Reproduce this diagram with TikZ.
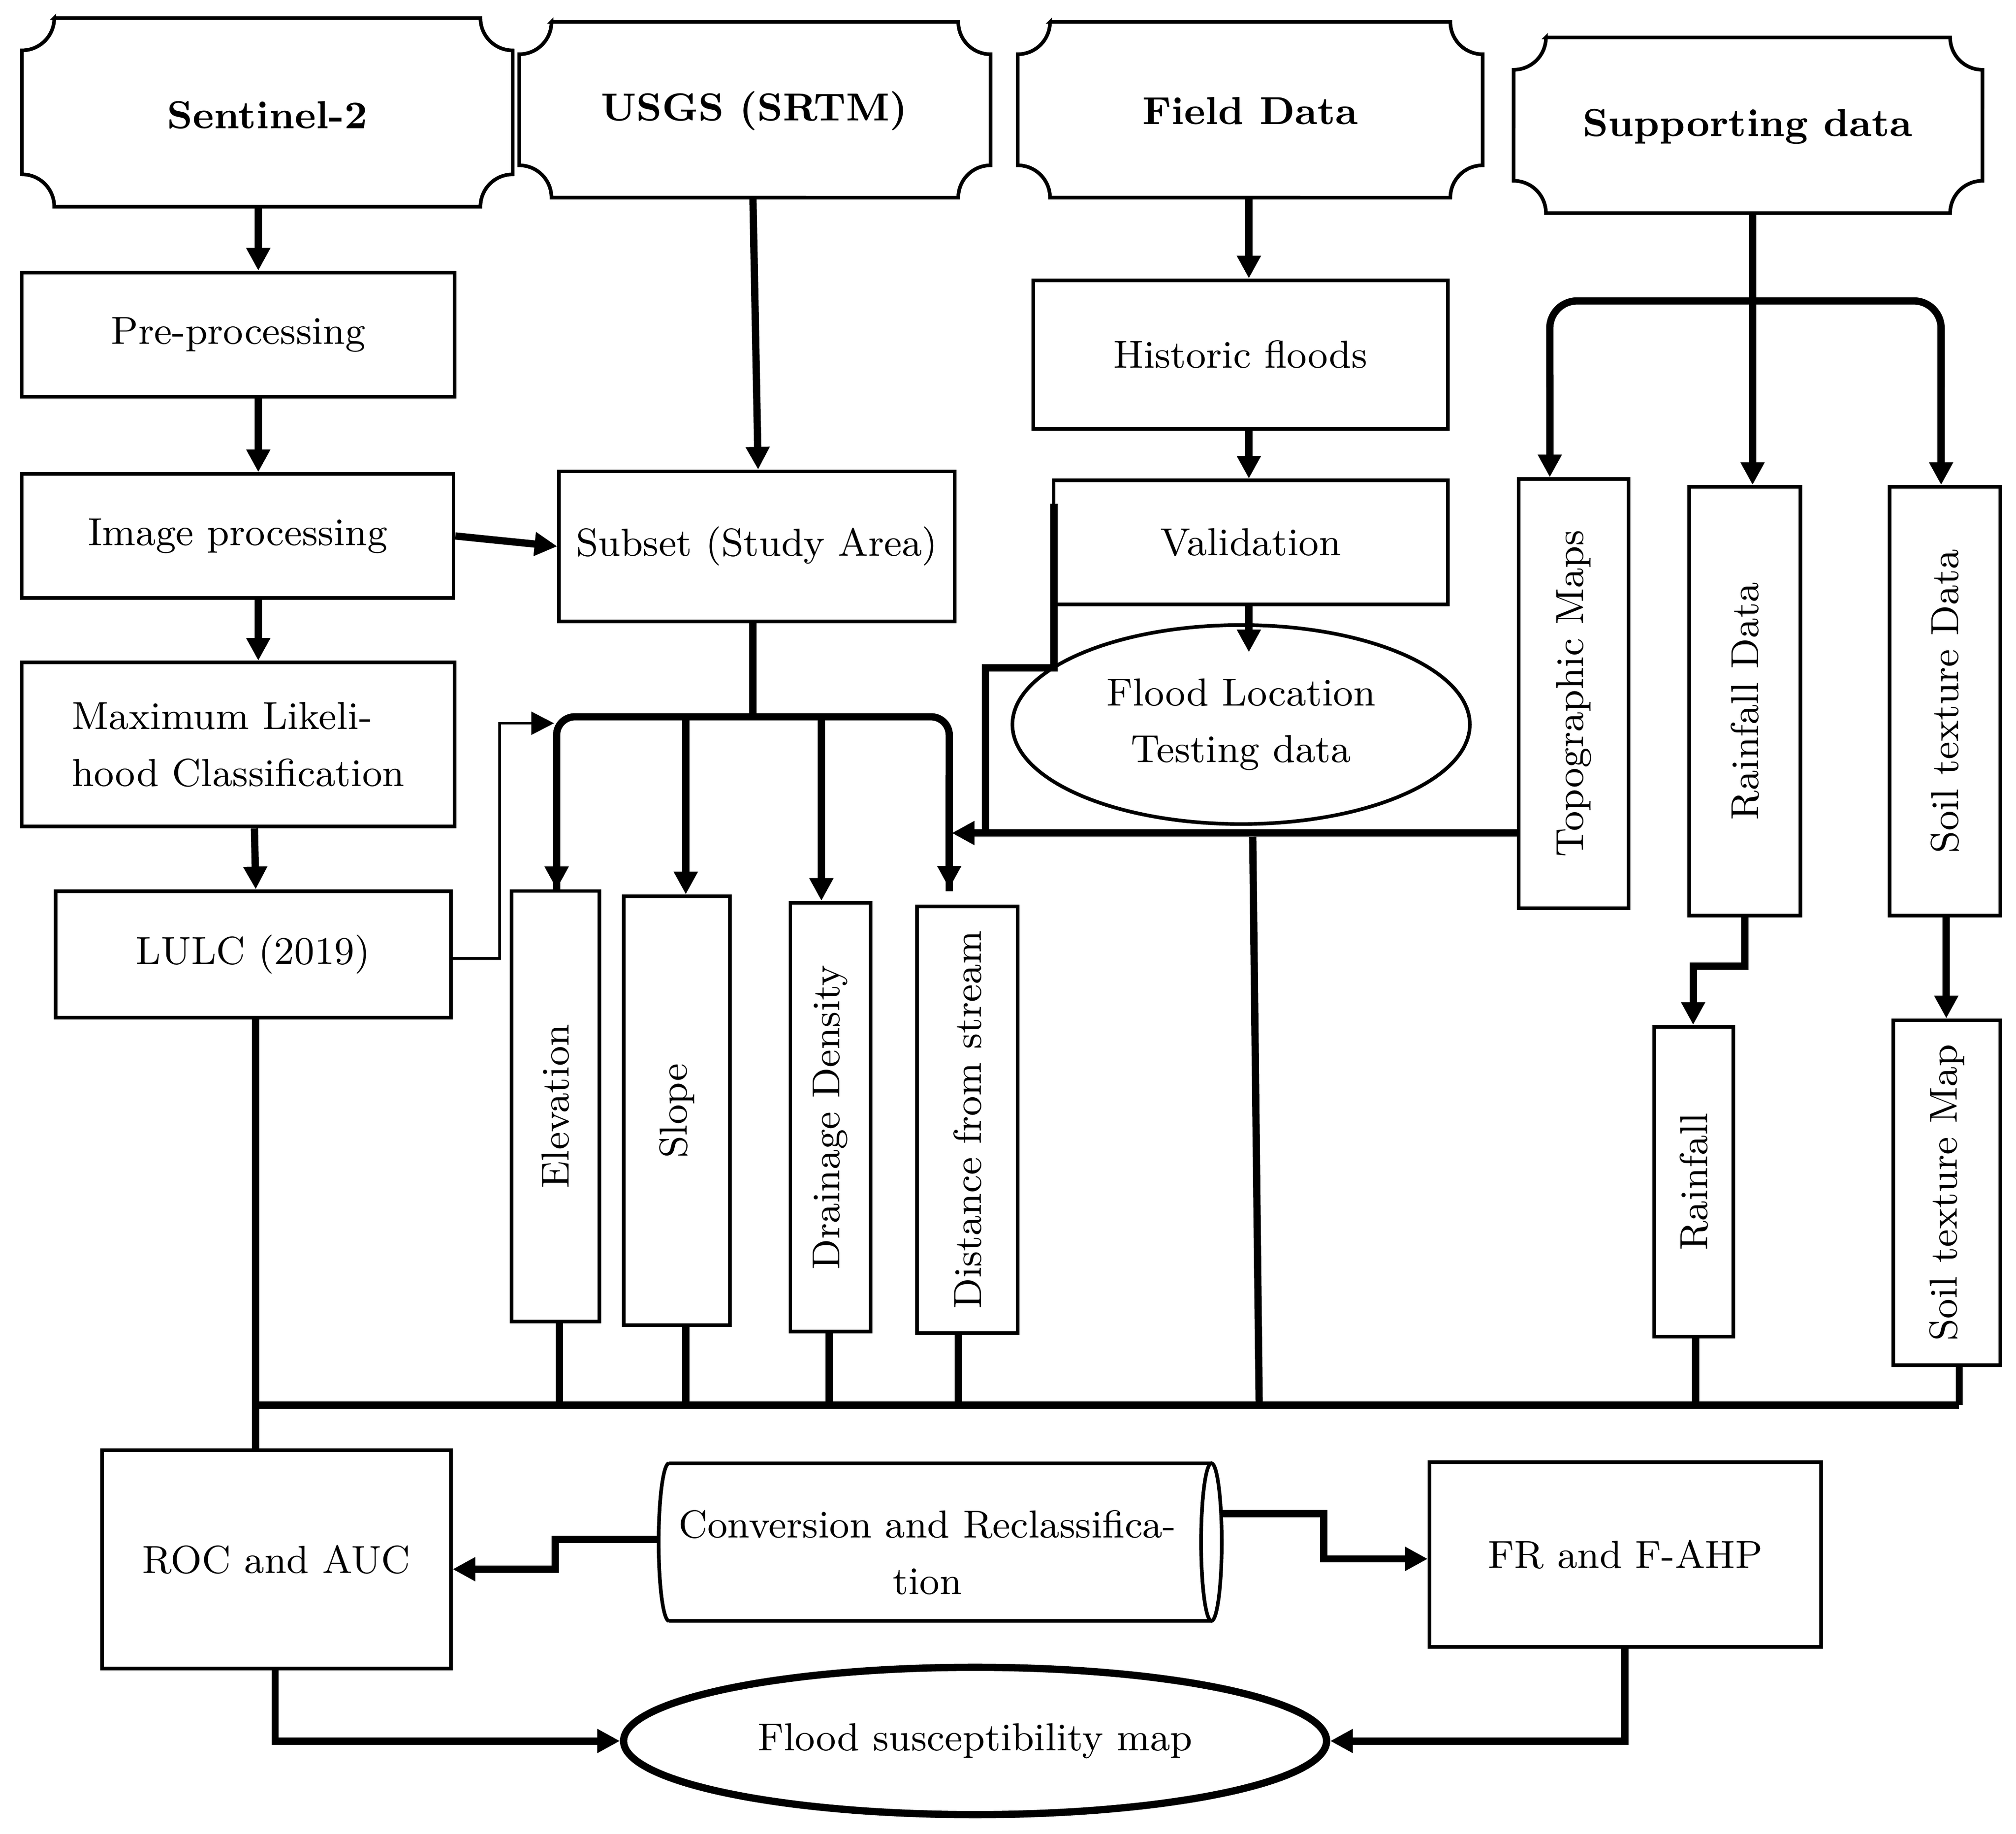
\documentclass[tikz,border=0pt]{standalone}
\usetikzlibrary{arrows.meta,shapes.geometric}
\begin{document}
\begin{tikzpicture}[x=0.01cm,y=-0.01cm,
  every node/.style={font=\fontsize{8.6}{12.5}\selectfont},
  box/.style={draw,line width=0.8pt,inner sep=0pt,align=center},
  thk/.style={line width=1.6pt},
  arr/.style={line width=1.6pt,-{Triangle[length=5pt,width=5pt]}},
  tarr/.style={line width=0.6pt,-{Triangle[length=5pt,width=5pt]}}]
\useasboundingbox (0,0) rectangle (1561,1420);
\newcommand\plq[5]{%
 \draw[line width=0.8pt] (#1+25,#2) -- (#3-25,#2) arc(180:270:0.25cm) -- (#3,#4-25) arc(90:180:0.25cm) -- (#1+25,#4) arc(0:90:0.25cm) -- (#1,#2+25) arc(270:360:0.25cm) -- cycle;
 \node (#5) at ({(#1+#3)/2},{(#2+#4)/2}) {};}
\tikzset{ttl/.style={font=\fontsize{8.6}{12.5}\selectfont\bfseries}}
% top plaques
\plq{17}{14}{397}{160}{sen}\node[ttl] at (207,89) {Sentinel-2};
\plq{402}{17}{767}{153}{usgs}\node[ttl] at (584,86) {USGS (SRTM)};
\plq{788}{17}{1148}{153}{field}\node[ttl] at (968,86) {Field Data};
\plq{1172}{29}{1535}{165}{supp}\node[ttl] at (1353,98) {Supporting data};
% left column
\node[box,minimum width=3.35cm,minimum height=0.96cm] (pre) at (184.5,259) {Pre-processing};
\node[box,minimum width=3.34cm,minimum height=0.96cm] (img) at (184,415) {Image processing};
\node[box,minimum width=3.35cm,minimum height=1.27cm,align=left] (mlc) at (184.5,576.5) {Maximum Likeli-\\hood Classification};
\node[box,minimum width=3.06cm,minimum height=0.98cm] (lulc) at (196,739) {LULC (2019)};
\node[box,minimum width=3.06cm,minimum height=1.16cm] (sub) at (586,423) {Subset (Study Area)};
\node[box,minimum width=3.21cm,minimum height=1.15cm] (hist) at (960.5,274.5) {Historic floods};
\node[box,minimum width=3.05cm,minimum height=0.96cm] (val) at (968.5,420) {Validation};
\node[draw,line width=0.8pt,ellipse,minimum width=3.54cm,minimum height=1.54cm,fill=white,align=center] (floc) at (961,561) {Flood Location\\Testing data};
% vertical boxes
\node[box,minimum width=0.85cm,minimum height=3.32cm] (topo) at (1218.5,537) {\rotatebox{90}{Topographic Maps}};
\node[box,minimum width=0.86cm,minimum height=3.32cm] (rfd) at (1351,543) {\rotatebox{90}{Rainfall Data}};
\node[box,minimum width=0.86cm,minimum height=3.32cm] (std) at (1506,543) {\rotatebox{90}{Soil texture Data}};
\node[box,minimum width=0.61cm,minimum height=2.40cm] (rf) at (1311.5,915) {\rotatebox{90}{Rainfall}};
\node[box,minimum width=0.83cm,minimum height=2.67cm] (stm) at (1507.5,923.5) {\rotatebox{90}{Soil texture Map}};
\node[box,minimum width=0.68cm,minimum height=3.33cm] (elev) at (430,856.5) {\rotatebox{90}{Elevation}};
\node[box,minimum width=0.82cm,minimum height=3.32cm] (slope) at (524,860) {\rotatebox{90}{Slope}};
\node[box,minimum width=0.62cm,minimum height=3.32cm] (dd) at (643,865) {\rotatebox{90}{Drainage Density}};
\node[box,minimum width=0.78cm,minimum height=3.30cm] (dist) at (749,867) {\rotatebox{90}{Distance from stream}};
% bottom
\node[box,minimum width=2.70cm,minimum height=1.69cm] (roc) at (214,1207.5) {ROC and AUC};
\node[box,minimum width=3.03cm,minimum height=1.43cm] (fr) at (1258.5,1203.5) {FR and F-AHP};
\draw[line width=0.8pt] (518,1133) -- (938,1133) (518,1255) -- (938,1255)
  (518,1133) arc[start angle=90,end angle=270,x radius=0.08cm,y radius=0.61cm];
\draw[line width=0.8pt] (938,1194) ellipse[x radius=0.08cm,y radius=0.61cm];
\node[align=center] (cyl) at (718,1202) {Conversion and Reclassifica-\\tion};
\coordinate (cylL) at (510,1192); \coordinate (cylR) at (946,1172);
\node[draw,line width=1.6pt,ellipse,minimum width=5.44cm,minimum height=1.14cm] (fsm) at (755,1348) {Flood susceptibility map};
% connectors left
\draw[arr] (200,160) -- (pre.north-|200,0);
\draw[arr] (pre.south-|200,0) -- (img.north-|200,0);
\draw[arr] (img.south-|200,0) -- (mlc.north-|200,0);
\draw[arr] (mlc.south-|197,0) -- (lulc.north-|198,0);
\draw[arr] (img.east) -- (sub.west);
\draw[arr] (583,153) -- (sub.north-|587,0);
% subset bus
\draw[thk] (sub.south-|583,0) -- (583,555);
\draw[thk,rounded corners=4pt] (431,690) -- (431,555) -- (735,555) -- (735,690);
\draw[arr] (431,600) -- (elev.north-|431,0);
\draw[arr] (531,555) -- (slope.north-|531,0);
\draw[arr] (636,555) -- (dd.north-|636,0);
\draw[arr] (735,600) -- (735,688);
\draw[tarr] (lulc.east|-0,742) -- (387,742) -- (387,560) -- (429,560);
% field
\draw[arr] (967,153) -- (hist.north-|967,0);
\draw[arr] (hist.south-|967,0) -- (val.north-|967,0);
\draw[arr] (val.south-|967,0) -- (967,505);
\draw[thk] (816,390) -- (816,517) -- (763,517) -- (763,645);
\draw[arr] (topo.west|-0,645) -- (737,645);
% supporting
\draw[thk] (1357,165) -- (1357,233);
\draw[thk,rounded corners=6pt] (1200,300) -- (1200,233) -- (1503,233) -- (1503,300);
\draw[arr] (1200,290) -- (topo.north-|1200,0);
\draw[arr] (1357,233) -- (rfd.north-|1357,0);
\draw[arr] (1503,290) -- (std.north-|1503,0);
\draw[arr] (rfd.south-|1351,0) -- (1351,748) -- (1311,748) -- (rf.north-|1311,0);
\draw[arr] (std.south-|1507,0) -- (stm.north-|1507,0);
% bottom bus
\draw[thk] (198,1088) -- (1517,1088);
\draw[thk] (lulc.south-|198,0) -- (198,1088) -- (roc.north-|198,0);
\draw[thk] (elev.south-|433,0) -- (433,1088);
\draw[thk] (slope.south-|531,0) -- (531,1088);
\draw[thk] (dd.south-|642,0) -- (642,1088);
\draw[thk] (dist.south-|742,0) -- (742,1088);
\draw[thk] (970,648) -- (975,1088);
\draw[thk] (rf.south-|1313,0) -- (1313,1088);
\draw[thk] (stm.south-|1517,0) -- (1517,1088);
% cylinder outputs
\draw[arr] (cylL) -- (430,1192) -- (430,1215) -- (roc.east|-0,1215);
\draw[arr] (cylR) -- (1025,1172) -- (1025,1207) -- (fr.west|-0,1207);
\draw[arr] (roc.south-|213,0) -- (213,1348) -- (fsm.west);
\draw[arr] (fr.south-|1258,0) -- (1258,1348) -- (fsm.east);
\end{tikzpicture}
\end{document}
